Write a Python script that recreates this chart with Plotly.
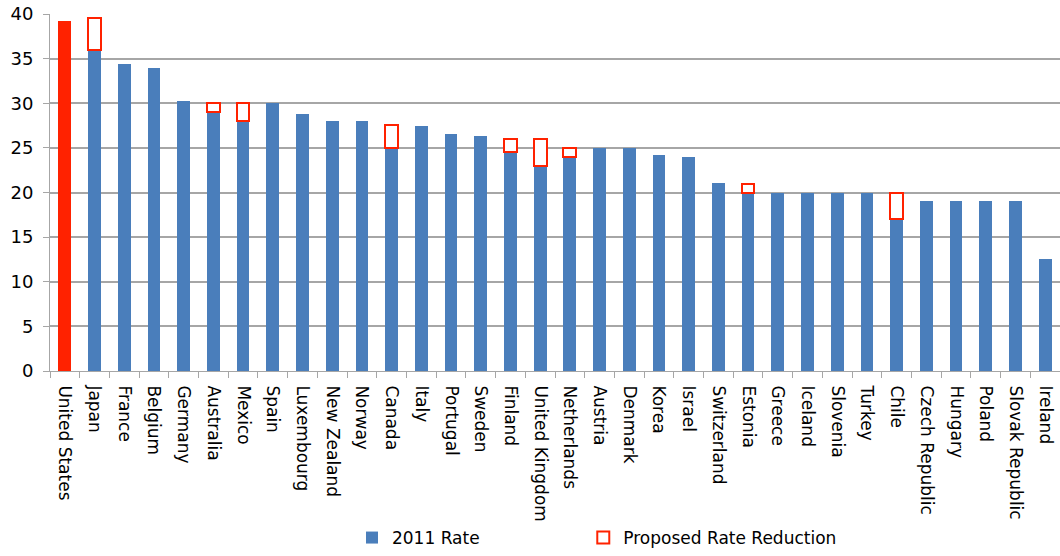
import plotly.graph_objects as go

countries = ["United States", "Japan", "France", "Belgium", "Germany", "Australia", "Mexico",
             "Spain", "Luxembourg", "New Zealand", "Norway", "Canada", "Italy", "Portugal",
             "Sweden", "Finland", "United Kingdom", "Netherlands", "Austria", "Denmark", "Korea",
             "Israel", "Switzerland", "Estonia", "Greece", "Iceland", "Slovenia", "Turkey", "Chile",
             "Czech Republic", "Hungary", "Poland", "Slovak Republic", "Ireland"]

# blue portion (2011 rate after proposed reduction); US shown separately in red
rate_2011 = [None, 36.0, 34.4, 34.0, 30.2, 29.0, 28.0, 30.0, 28.8, 28.0, 28.0, 25.0, 27.5, 26.5,
             26.3, 24.5, 23.0, 24.0, 25.0, 25.0, 24.2, 24.0, 21.1, 20.0, 20.0, 20.0, 20.0, 20.0,
             17.0, 19.0, 19.0, 19.0, 19.0, 12.5]
us_rate = [39.2] + [None] * 33
reduction = [None, 3.5, None, None, None, 1.0, 2.0, None, None, None, None, 2.6, None, None,
             None, 1.5, 3.0, 1.0, None, None, None, None, None, 1.0, None, None, None, None,
             3.0, None, None, None, None, None]

BLUE = "#4a7ebb"
RED = "#ff2200"

fig = go.Figure()
fig.add_trace(go.Bar(x=countries, y=rate_2011, name="2011 Rate", legend="legend",
                     marker=dict(color=BLUE, line=dict(width=0))))
fig.add_trace(go.Bar(x=countries, y=us_rate, name="United States", showlegend=False,
                     marker=dict(color=RED, line=dict(width=0))))
fig.add_trace(go.Bar(x=countries, y=reduction, name="Proposed Rate Reduction", legend="legend2",
                     marker=dict(color="white", line=dict(color=RED, width=2))))

fig.update_layout(
    width=1060, height=556,
    barmode="stack", bargap=0.57,
    plot_bgcolor="white", paper_bgcolor="white",
    margin=dict(l=50, r=0, t=14, b=185),
    font=dict(family="DejaVu Sans", color="#000000"),
    legend=dict(orientation="h", x=0.299, xanchor="left", y=-0.52, yanchor="bottom",
                font=dict(size=17), bgcolor="rgba(0,0,0,0)"),
    legend2=dict(orientation="h", x=0.528, xanchor="left", y=-0.52, yanchor="bottom",
                 font=dict(size=17), bgcolor="rgba(0,0,0,0)"),
    xaxis=dict(tickangle=90, tickfont=dict(size=17), showline=True, linecolor="#a6a6a6",
               linewidth=1, ticks="outside", tickson="boundaries", ticklen=6,
               tickcolor="#a6a6a6", showgrid=False, ticklabelstandoff=10),
    yaxis=dict(range=[0, 40], dtick=5, tickfont=dict(size=18), showline=True,
               linecolor="#a6a6a6", linewidth=1, ticks="outside", ticklen=6,
               tickcolor="#a6a6a6", gridcolor="#a6a6a6", gridwidth=1.5, zeroline=False,
               ticklabelstandoff=6),
)

fig.write_html("out.html")
